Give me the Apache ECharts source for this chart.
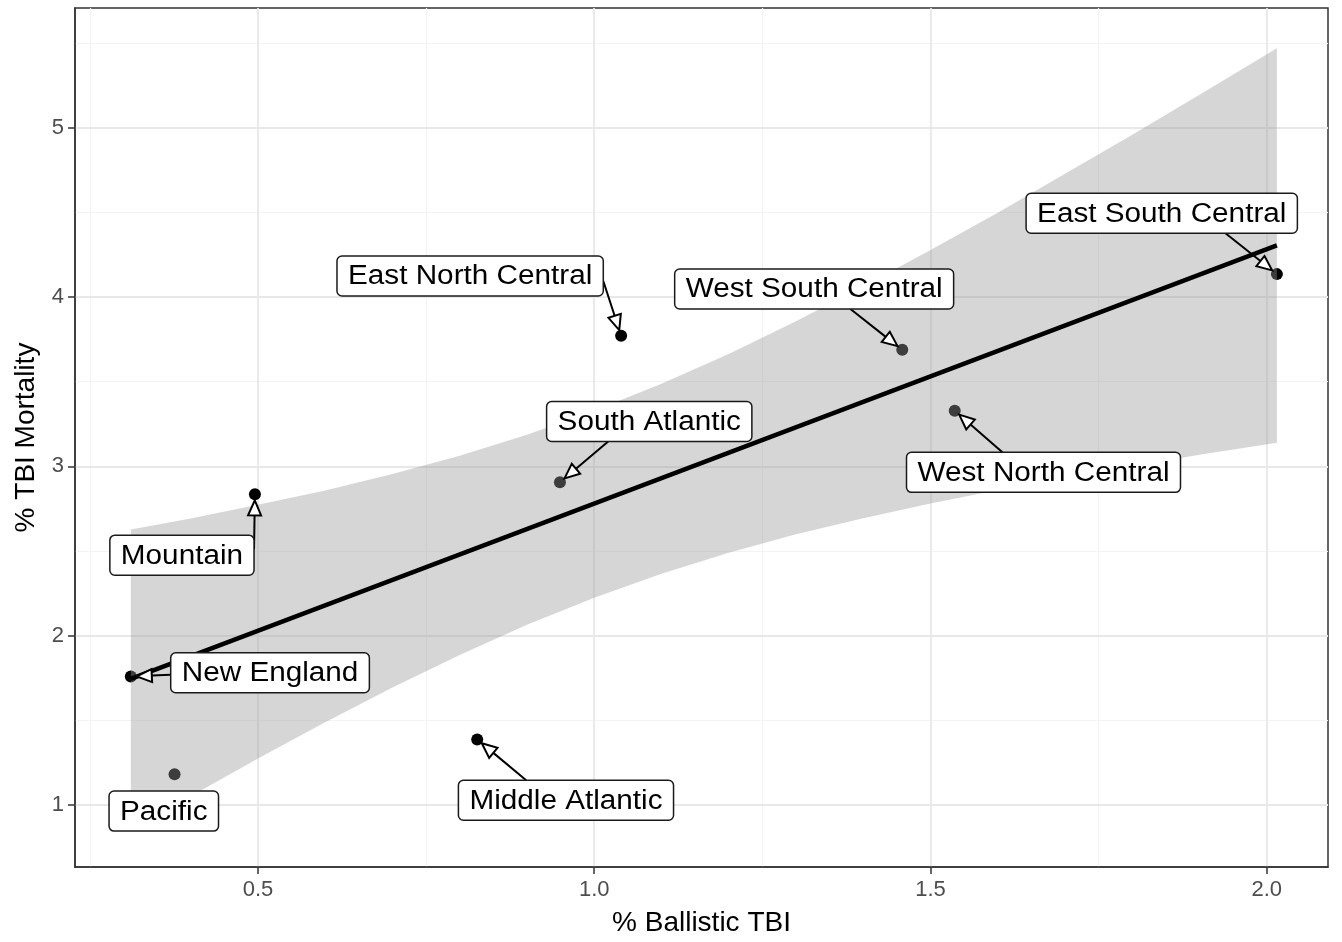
<!DOCTYPE html>
<html>
<head>
<meta charset="utf-8">
<script src="https://cdn.jsdelivr.net/npm/echarts@6/dist/echarts.min.js"></script>
<style>
html,body{margin:0;padding:0;background:#fff;}
#chart{width:1342px;height:942px;}
</style>
</head>
<body>
<div id="chart"></div>
<script>
// ---- data ----
const regions = ['East North Central','West South Central','East South Central','South Atlantic','West North Central','Mountain','New England','Pacific','Middle Atlantic'];
const ballisticTBI = [1.040, 1.458, 2.015, 0.949, 1.536, 0.4955, 0.311, 0.376, 0.826];
const tbiMortality = [3.771, 3.688, 4.135, 2.906, 3.329, 2.835, 1.759, 1.182, 1.388];

// fitted line (ends)
const fitX = [0.311, 2.015];
const fitY = [1.745, 4.305];

// confidence band
const bandX = [0.311, 0.4, 0.5, 0.6, 0.7, 0.8, 0.9, 1.0, 1.1, 1.2, 1.3, 1.4, 1.5, 1.6, 1.7, 1.8, 1.9, 2.015];
const bandUpper = [2.628, 2.693, 2.773, 2.858, 2.955, 3.063, 3.187, 3.328, 3.488, 3.664, 3.857, 4.062, 4.277, 4.498, 4.727, 4.958, 5.194, 5.468];
const bandLower = [0.850, 1.053, 1.275, 1.490, 1.695, 1.887, 2.065, 2.224, 2.366, 2.490, 2.599, 2.694, 2.781, 2.860, 2.933, 3.002, 3.068, 3.140];

// axis ticks
const xTicks = [0.5, 1.0, 1.5, 2.0];
const xMinor = [0.25, 0.75, 1.25, 1.75];
const yTicks = [1, 2, 3, 4, 5];
const yMinor = [1.5, 2.5, 3.5, 4.5, 5.5];

// label placement (annotation layout, data coordinates of label centres)
const labelX = [0.8155, 1.327, 1.8438, 1.0818, 1.668, 0.387, 0.518, 0.360, 0.958];
const labelY = [4.124, 4.047, 4.494, 3.265, 2.965, 2.476, 1.782, 0.965, 1.029];
// where the connector leaves the label box (relative -1..1), null = no connector
const segAnchor = [[1,0.25],[0.26,1],[0.47,1],[-0.40,1],[-0.30,-1],[1,-0.3],[-1,0.1],null,[-0.37,-1]];

// ---- chart ----
const LABEL_FONT = '27px "Liberation Sans", Arial, sans-serif';
const LABEL_STRETCH = 1.1;
const measureCtx = document.createElement('canvas').getContext('2d');
measureCtx.font = LABEL_FONT;

const chart = echarts.init(document.getElementById('chart'), null, {renderer: 'canvas'});

const gridLineData = []
  .concat(xMinor.map(v => ({xAxis: v, lineStyle: {color: '#f3f3f3', width: 1.2, type: 'solid'}})))
  .concat(yMinor.map(v => ({yAxis: v, lineStyle: {color: '#f3f3f3', width: 1.2, type: 'solid'}})))
  .concat(xTicks.map(v => ({xAxis: v, lineStyle: {color: '#e8e8e8', width: 1.8, type: 'solid'}})))
  .concat(yTicks.map(v => ({yAxis: v, lineStyle: {color: '#e8e8e8', width: 1.8, type: 'solid'}})));

const annData = regions.map((r, i) => [ballisticTBI[i], tbiMortality[i], labelX[i], labelY[i], i]);

function renderBand(params, api) {
  const pts = [];
  for (let i = 0; i < bandX.length; i++) pts.push(api.coord([bandX[i], bandUpper[i]]));
  for (let i = bandX.length - 1; i >= 0; i--) pts.push(api.coord([bandX[i], bandLower[i]]));
  return {type: 'polygon', shape: {points: pts}, style: {fill: 'rgba(153,153,153,0.4)'}};
}

function renderLabel(params, api) {
  const i = api.value(4);
  const p = api.coord([api.value(0), api.value(1)]);
  const c = api.coord([api.value(2), api.value(3)]);
  const text = regions[i];
  const tw = measureCtx.measureText(text).width * LABEL_STRETCH;
  const w = tw + 22, h = 40;
  const bx = c[0] - w / 2, by = c[1] - h / 2;
  const children = [];
  const a = segAnchor[i];
  if (a) {
    const sx = c[0] + a[0] * w / 2, sy = c[1] + a[1] * h / 2;
    const dx = p[0] - sx, dy = p[1] - sy;
    const len = Math.sqrt(dx * dx + dy * dy);
    const ux = dx / len, uy = dy / len;
    const tip = [p[0] - ux * 6, p[1] - uy * 6];
    const headLen = 15, headHalf = 6.5;
    const base = [tip[0] - ux * headLen, tip[1] - uy * headLen];
    const nx = -uy, ny = ux;
    children.push({type: 'line', shape: {x1: sx, y1: sy, x2: base[0], y2: base[1]},
      style: {stroke: '#000', lineWidth: 2}});
    children.push({type: 'polygon', shape: {points: [tip,
      [base[0] + nx * headHalf, base[1] + ny * headHalf],
      [base[0] - nx * headHalf, base[1] - ny * headHalf]]},
      style: {fill: '#fff', stroke: '#000', lineWidth: 2, lineJoin: 'miter'}});
  }
  children.push({type: 'rect', shape: {x: bx, y: by, width: w, height: h, r: 5},
    style: {fill: '#fff', stroke: '#1a1a1a', lineWidth: 1.5}});
  children.push({type: 'text', x: c[0], y: c[1] + 1, scaleX: LABEL_STRETCH,
    style: {text: text, x: 0, y: 0, font: LABEL_FONT,
    fill: '#000', align: 'center', verticalAlign: 'middle'}});
  return {type: 'group', children: children};
}

const option = {
  backgroundColor: '#fff',
  animation: false,
  grid: {left: 75, right: 14, top: 8, bottom: 71, show: true, borderColor: '#333', borderWidth: 1.5, backgroundColor: 'transparent'},
  xAxis: {
    type: 'value', min: 0.228, max: 2.091,
    name: '% Ballistic TBI', nameLocation: 'middle', nameGap: 42,
    nameTextStyle: {fontSize: 28, color: '#000', fontFamily: 'Liberation Sans'},
    axisLine: {show: true, onZero: false, lineStyle: {color: '#333', width: 1.5}},
    axisTick: {show: true, length: 7, customValues: xTicks, lineStyle: {color: '#333', width: 1.5}},
    axisLabel: {customValues: xTicks, formatter: v => v.toFixed(1), fontSize: 22, color: '#4d4d4d', margin: 12, fontFamily: 'Liberation Sans'},
    splitLine: {show: false}
  },
  yAxis: {
    type: 'value', min: 0.635, max: 5.706,
    name: '% TBI Mortality', nameLocation: 'middle', nameGap: 35,
    nameTextStyle: {fontSize: 28, color: '#000', fontFamily: 'Liberation Sans'},
    axisLine: {show: true, onZero: false, lineStyle: {color: '#333', width: 1.5}},
    axisTick: {show: true, length: 7, customValues: yTicks, lineStyle: {color: '#333', width: 1.5}},
    axisLabel: {customValues: yTicks, formatter: v => String(Math.round(v)), fontSize: 22, color: '#4d4d4d', margin: 11, fontFamily: 'Liberation Sans'},
    splitLine: {show: false}
  },
  series: [
    {
      type: 'line', data: [], z: 0, silent: true,
      markLine: {silent: true, z: 0, symbol: ['none', 'none'], label: {show: false}, animation: false, data: gridLineData}
    },
    {
      type: 'scatter', z: 1, symbolSize: 12, itemStyle: {color: '#000', opacity: 1},
      data: ballisticTBI.map((x, i) => [x, tbiMortality[i]])
    },
    {
      type: 'custom', z: 2, silent: true, renderItem: renderBand, data: [[1, 2]]
    },
    {
      type: 'line', z: 3, symbol: 'none', lineStyle: {color: '#000', width: 4.5},
      data: fitX.map((x, i) => [x, fitY[i]])
    },
    {
      type: 'custom', z: 4, silent: true, renderItem: renderLabel, data: annData, clip: false
    }
  ]
};
chart.setOption(option);
</script>
</body>
</html>
